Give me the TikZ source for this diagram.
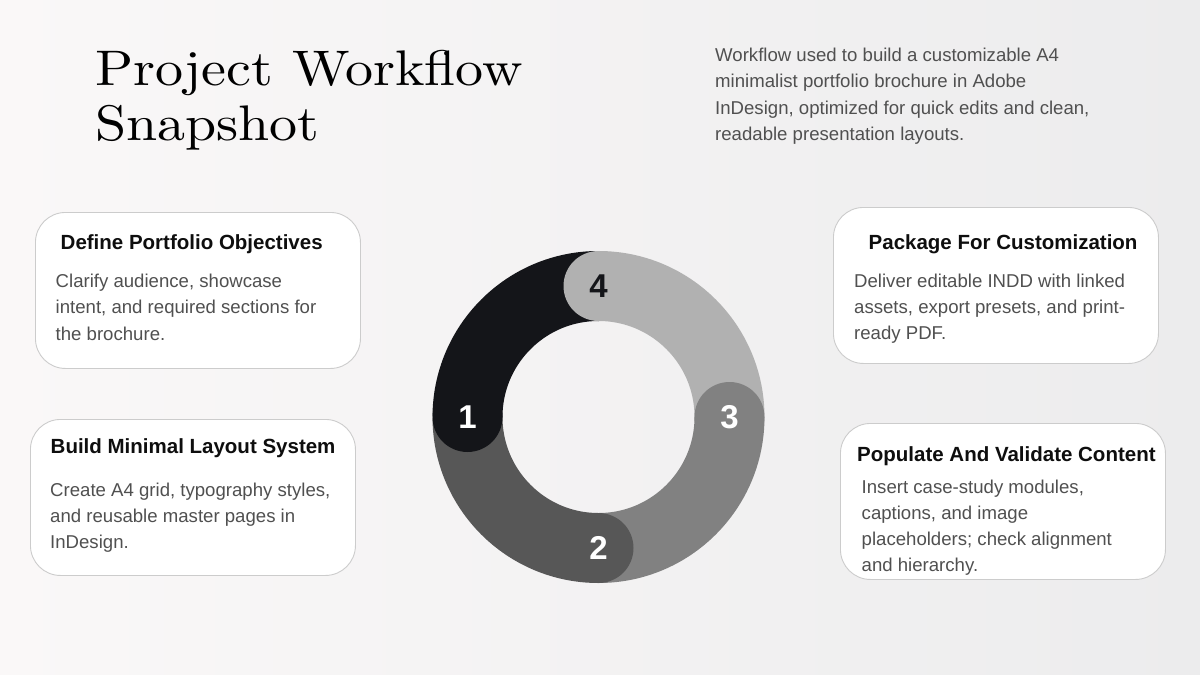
\documentclass[tikz,border=0pt]{standalone}
\usepackage{fontspec}
\usepackage{graphicx}
\newfontfamily\sansfont{Liberation Sans}
\newfontfamily\titlefont{lmroman10-regular.otf}
\definecolor{bgL}{HTML}{FAF8F8}
\definecolor{bgR}{HTML}{ECECED}
\definecolor{cardline}{HTML}{CCCCCC}
\definecolor{bodytext}{HTML}{505050}
\definecolor{titletext}{HTML}{0E0E0E}
\definecolor{segA}{HTML}{141519}
\definecolor{segB}{HTML}{575757}
\definecolor{segC}{HTML}{818181}
\definecolor{segD}{HTML}{B1B1B1}
\tikzset{
  card/.style={draw=cardline, fill=white, line width=0.9pt, rounded corners=30pt, minimum width=325pt, minimum height=156pt, anchor=north west, inner sep=0pt},
  cardtitle/.style={anchor=base west, inner sep=0pt, text=titletext, font=\sansfont\bfseries\fontsize{20.5}{24}\selectfont},
  body/.style={anchor=base west, inner sep=0pt, text=bodytext, font=\sansfont\fontsize{18.6}{26}\selectfont},
  bigtitle/.style={anchor=base west, inner sep=0pt, text=black, font=\titlefont\fontsize{50}{55}\selectfont},
  segline/.style={line width=70pt, line cap=butt},
  num/.style={inner sep=0pt, font=\sansfont\bfseries\fontsize{33}{36}\selectfont}
}
\begin{document}
\begin{tikzpicture}[x=1pt,y=-1pt]
\useasboundingbox (0,0) rectangle (1200,675);
\shade[left color=bgL, right color=bgR] (0,0) rectangle (1200,675);

% title
\node[bigtitle] (title1) at (95,85) {\scalebox{1.12}[1]{Project Workflow}};
\node[bigtitle] (title2) at (95,140) {\scalebox{1.12}[1]{Snapshot}};

% subtitle
\foreach \t [count=\i] in {{Workflow used to build a customizable A4},{minimalist portfolio brochure in Adobe},{InDesign, optimized for quick edits and clean,},{readable presentation layouts.}}
  \node[body] (sub\i) at (715,{61.7+26.2*(\i-1)}) {\t};

% cards
\node[card] (card1) at (35,212) {};
\node[card] (card2) at (30,419) {};
\node[card] (card3) at (833,207) {};
\node[card] (card4) at (840,423) {};

\node[cardtitle] (ct1) at (60.5,249.3) {Define Portfolio Objectives};
\foreach \t [count=\i] in {{Clarify audience, showcase},{intent, and required sections for},{the brochure.}}
  \node[body] (c1l\i) at (55.5,{287.3+26.5*(\i-1)}) {\t};

\node[cardtitle] (ct2) at (50.5,453.3) {Build Minimal Layout System};
\foreach \t [count=\i] in {{Create A4 grid, typography styles,},{and reusable master pages in},{InDesign.}}
  \node[body] (c2l\i) at (50,{496+26.2*(\i-1)}) {\t};

\node[cardtitle] (ct3) at (868.5,249.3) {Package For Customization};
\foreach \t [count=\i] in {{Deliver editable INDD with linked},{assets, export presets, and print-},{ready PDF.}}
  \node[body] (c3l\i) at (854,{287.3+26*(\i-1)}) {\t};

\node[cardtitle] (ct4) at (857,461) {Populate And Validate Content};
\foreach \t [count=\i] in {{Insert case-study modules,},{captions, and image},{placeholders; check alignment},{and hierarchy.}}
  \node[body] (c4l\i) at (861.5,{493.3+25.9*(\i-1)}) {\t};

% ring
\begin{scope}[shift={(598.5,417)}, x=1pt, y=1pt]
  \draw[segline, segA] (180:131) arc[start angle=180, end angle=90, radius=131];
  \draw[segline, segD] (90:131) arc[start angle=90, end angle=0, radius=131];
  \draw[segline, segC] (0:131) arc[start angle=0, end angle=-90, radius=131];
  \draw[segline, segB] (-90:131) arc[start angle=-90, end angle=-180, radius=131];
  \fill[segA] (180:131) circle[radius=35];
  \fill[segD] (90:131) circle[radius=35];
  \fill[segC] (0:131) circle[radius=35];
  \fill[segB] (-90:131) circle[radius=35];
  \node[num, text=white] (n1) at (180:131) {1};
  \node[num, text=white] (n2) at (-90:131) {2};
  \node[num, text=white] (n3) at (0:131) {3};
  \node[num, text=segA] (n4) at (90:131) {4};
\end{scope}
\end{tikzpicture}
\end{document}
